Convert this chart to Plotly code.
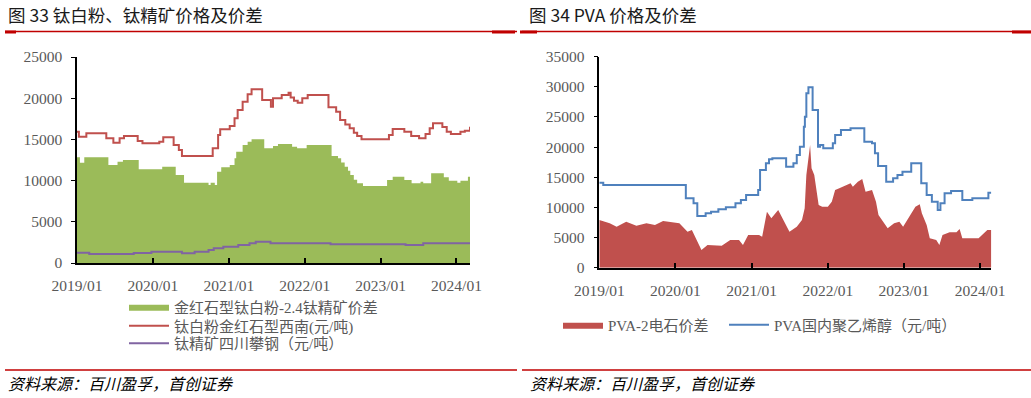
import plotly.graph_objects as go

# ---------------- Left chart data (图33) ----------------
ti_red_dates = ["2019-01-01","2019-01-10","2019-02-15","2019-05-22","2019-06-25","2019-07-25","2019-08-15",
    "2019-10-20","2019-11-12","2020-02-01","2020-02-20","2020-04-10","2020-05-05","2020-05-20","2020-10-15",
    "2020-11-10","2020-11-20","2021-01-05","2021-01-28","2021-02-12","2021-03-08","2021-04-01","2021-04-20",
    "2021-06-10","2021-07-22","2021-08-01","2021-09-12","2021-10-15","2021-10-25","2021-11-10","2021-11-28",
    "2021-12-20","2022-01-15","2022-04-25","2022-06-01","2022-06-20","2022-07-15","2022-08-05","2022-08-25",
    "2022-09-10","2022-10-01","2023-02-10","2023-02-28","2023-04-25","2023-05-28","2023-07-05","2023-08-05",
    "2023-08-25","2023-09-10","2023-10-25","2023-11-15","2023-12-05","2024-01-20","2024-02-10","2024-03-06"]
ti_red_vals = [15930,15330,15740,15130,14600,15130,15410,
    14810,14520,14720,15250,14320,13710,12990,13920,
    15530,16220,16620,17560,18570,19580,20470,21080,
    19780,18970,19990,20390,20670,20100,19700,19450,
    19990,20390,18890,18360,17350,16800,16350,15800,
    15410,15010,15530,16260,15930,15410,15130,15650,
    16350,16950,16500,15930,15650,15930,16060,16540]

ti_green_dates = ["2019-01-01","2019-01-15","2019-02-05","2019-06-01","2019-07-15","2019-08-10","2019-10-25",
    "2020-02-15","2020-04-20","2020-05-30","2020-09-25","2020-10-05","2020-10-25","2020-11-05","2020-11-25",
    "2021-01-05","2021-01-28","2021-02-05","2021-03-08","2021-04-01","2021-04-20","2021-06-20","2021-08-01",
    "2021-08-25","2021-11-01","2021-11-25","2022-01-10","2022-05-10","2022-06-10","2022-06-25","2022-07-12",
    "2022-07-28","2022-08-08","2022-08-25","2022-09-10","2022-10-08","2023-02-01","2023-02-28","2023-04-25",
    "2023-05-30","2023-07-12","2023-07-25","2023-09-01","2023-11-01","2023-11-25","2024-01-05","2024-01-20",
    "2024-02-25","2024-03-06"]
ti_green_vals = [12830,12170,12830,11890,12290,12500,11370,
    11690,10680,9750,9470,9750,9470,11080,11610,
    11890,12700,13510,14320,14720,15010,13920,14200,
    14440,14100,13920,14320,12990,12700,12200,11690,
    11200,10680,10100,9670,9340,10070,10470,10070,
    9670,9870,9670,10890,10400,9990,9750,9990,
    10470,10470]

ti_purple_dates = ["2019-01-01","2019-03-01","2019-10-01","2019-12-25","2020-05-20","2020-07-20","2020-09-25",
    "2020-10-20","2020-12-05","2021-02-15","2021-04-10","2021-05-10","2021-07-20","2022-05-05","2023-05-01",
    "2023-07-25","2024-03-06"]
ti_purple_vals = [1250,1090,1200,1370,1190,1370,1580,
    1780,1980,2180,2390,2590,2390,2270,2180,
    2390,2390]

# ---------------- Right chart data (图34) ----------------
pva_dates = ["2019-01-01","2019-01-20","2020-02-20","2020-03-28","2020-04-15","2020-05-25","2020-06-20",
    "2020-07-25","2020-08-30","2020-10-15","2020-11-10","2020-12-05","2021-02-01","2021-02-10","2021-03-10",
    "2021-03-25","2021-04-10","2021-06-15","2021-07-20","2021-08-05","2021-08-20","2021-09-08","2021-09-13",
    "2021-09-20","2021-09-30","2021-10-20","2021-11-15","2021-11-25","2021-12-10","2022-01-25","2022-02-05",
    "2022-03-05","2022-04-20","2022-06-25","2022-08-01","2022-08-15","2022-08-30","2022-10-08","2022-11-10",
    "2022-12-01","2022-12-25","2023-02-05","2023-03-25","2023-04-20","2023-05-15","2023-06-12","2023-06-25",
    "2023-07-15","2023-08-15","2023-10-08","2023-11-25","2024-02-10","2024-02-24"]
pva_vals = [14100,13720,11510,10680,8580,9020,9290,
    9690,10020,10680,11230,12060,12890,16210,17320,
    17980,18150,16760,17320,18700,20070,23390,25050,
    28930,29930,26160,20070,20360,19810,20640,22010,
    22840,23120,20900,20640,18980,16870,14270,14830,
    15380,15930,17320,14000,12060,10950,9570,10680,
    12340,12720,11230,11510,12440,12440]

spread_dates = ["2019-01-01","2019-02-20","2019-03-25","2019-05-10","2019-06-28","2019-08-15","2019-09-25",
    "2019-11-03","2020-01-20","2020-02-28","2020-03-20","2020-05-05","2020-06-03","2020-07-10","2020-08-10",
    "2020-09-20","2020-11-01","2020-11-20","2020-12-15","2021-02-05","2021-02-20","2021-03-15","2021-04-05",
    "2021-05-08","2021-05-28","2021-07-01","2021-08-05","2021-08-30","2021-09-12","2021-09-20","2021-10-08",
    "2021-10-15","2021-10-28","2021-11-18","2021-12-05","2022-01-01","2022-01-20","2022-02-05","2022-02-25",
    "2022-04-01","2022-04-20","2022-05-01","2022-05-25","2022-06-15","2022-07-01","2022-08-01","2022-08-20",
    "2022-09-01","2022-10-15","2022-11-15","2022-12-10","2022-12-28","2023-01-30","2023-02-25","2023-03-18",
    "2023-03-28","2023-04-20","2023-05-05","2023-06-05","2023-06-20","2023-07-05","2023-08-08","2023-09-10",
    "2023-09-25","2023-10-08","2023-12-25","2024-02-05","2024-02-24"]
spread_vals = [7910,7360,6800,7630,6970,7360,7080,
    7750,7360,5970,6250,2940,3770,3770,3650,
    4600,4600,3770,5430,5430,5150,9290,8200,
    9570,8200,5970,6800,7910,9850,15380,20360,
    16490,15380,10400,10120,10120,10950,12890,13170,
    13720,14000,13440,14270,14720,12610,12890,10950,
    8740,6540,7360,7630,6800,8740,10120,10510,
    9020,7080,4870,4600,3770,5430,5870,5870,
    6420,4870,4870,6250,6250]

W, H = 1031, 398
def px(x): return x / W
def py(y): return 1 - y / H

GRAY = "#595959"
TICKFONT = dict(family="Liberation Serif, Times New Roman, serif", size=15.5, color=GRAY)
LEGFONT = dict(family="Liberation Serif, Noto Sans CJK SC, sans-serif", size=15, color=GRAY)

fig = go.Figure()

# Left traces
fig.add_trace(go.Scatter(x=ti_green_dates, y=ti_green_vals, mode="lines", line=dict(width=0, shape="hv", color="#9BBB59"),
    fill="tozeroy", fillcolor="#9BBB59", name="金红石型钛白粉-2.4钛精矿价差", xaxis="x", yaxis="y", legend="legend"))
fig.add_trace(go.Scatter(x=ti_red_dates, y=ti_red_vals, mode="lines", line=dict(width=2, shape="hv", color="#C0504D"),
    name="钛白粉金红石型西南(元/吨)", xaxis="x", yaxis="y", legend="legend3"))
fig.add_trace(go.Scatter(x=ti_purple_dates, y=ti_purple_vals, mode="lines", line=dict(width=2, shape="hv", color="#8064A2"),
    name="钛精矿四川攀钢（元/吨）", xaxis="x", yaxis="y", legend="legend4"))

# Right traces
fig.add_trace(go.Scatter(x=spread_dates, y=spread_vals, mode="lines", line=dict(width=0, color="#C0504D"),
    fill="tozeroy", fillcolor="#C0504D", name="PVA-2电石价差", xaxis="x2", yaxis="y2", legend="legend2"))
fig.add_trace(go.Scatter(x=pva_dates, y=pva_vals, mode="lines", line=dict(width=2, shape="hv", color="#4F81BD"),
    name="PVA国内聚乙烯醇（元/吨）", xaxis="x2", yaxis="y2", legend="legend5"))

xcommon = dict(type="date", tickformat="%Y/%m", dtick="M12", tick0="2019-01-01", ticks="inside", ticklen=5,
               tickcolor="black", tickwidth=1.5, showline=True, linecolor="black", linewidth=1.5, showgrid=False,
               zeroline=False, tickfont=TICKFONT, fixedrange=True, automargin=False, ticklabelstandoff=8)
ycommon = dict(ticks="outside", ticklen=4, tickcolor="black", tickwidth=1, showline=True, linecolor="black",
               linewidth=1.5, showgrid=False, zeroline=False, tickfont=TICKFONT, tickformat="d", fixedrange=True,
               ticklabelstandoff=6, automargin=False)

def leg(x, y):
    return dict(x=px(x), y=py(y), xanchor="left", yanchor="middle", orientation="v", font=LEGFONT,
                bgcolor="rgba(0,0,0,0)", itemwidth=40)

fig.update_layout(
    width=W, height=H, margin=dict(l=0, r=0, t=0, b=0, autoexpand=False), paper_bgcolor="white", plot_bgcolor="white",
    showlegend=True,
    xaxis=dict(domain=[px(77), px(470)], range=["2019-01-01", "2024-03-06"], anchor="y", **xcommon),
    yaxis=dict(domain=[py(263), py(57)], range=[0, 25000], dtick=5000, anchor="x", **ycommon),
    xaxis2=dict(domain=[px(599.3), px(991.3)], range=["2019-01-01", "2024-02-24"], anchor="y2", **xcommon),
    yaxis2=dict(domain=[py(267.7), py(56.7)], range=[0, 35000], dtick=5000, anchor="x2", **ycommon),
    legend=leg(124, 307),
    legend3=leg(124, 326),
    legend4=leg(124, 343.5),
    legend2=leg(558, 325),
    legend5=leg(724, 325),
)

RED = "#C00000"
shapes = []
for (x0, x1) in [(5, 517), (522, 1031)]:
    shapes.append(dict(type="line", xref="paper", yref="paper", x0=px(x0), x1=px(x1), y0=py(31.5), y1=py(31.5),
                       line=dict(color=RED, width=1.5)))
    shapes.append(dict(type="line", xref="paper", yref="paper", x0=px(x0), x1=px(x1), y0=py(370), y1=py(370),
                       line=dict(color=RED, width=1.5)))
for (x0, x1) in [(5, 16), (492, 515), (520, 537), (1012, 1031)]:
    shapes.append(dict(type="line", xref="paper", yref="paper", x0=px(x0), x1=px(x1), y0=py(32), y1=py(32),
                       line=dict(color=RED, width=3)))
fig.update_layout(shapes=shapes)

TITLEFONT = dict(family="Noto Sans CJK SC, sans-serif", size=17.5, color="#1a1a1a", weight="normal")
SRCFONT = dict(family="Noto Sans CJK SC, sans-serif", size=16, color="black", style="italic", weight="normal")
ann = [
    dict(text="图 33 钛白粉、钛精矿价格及价差", x=px(6), y=py(14), xanchor="left", yanchor="middle", font=TITLEFONT),
    dict(text="图 34 PVA 价格及价差", x=px(527), y=py(14), xanchor="left", yanchor="middle", font=TITLEFONT),
    dict(text="资料来源：百川盈孚，首创证券", x=px(6), y=py(383), xanchor="left", yanchor="middle", font=SRCFONT),
    dict(text="资料来源：百川盈孚，首创证券", x=px(528), y=py(383), xanchor="left", yanchor="middle", font=SRCFONT),
]
for a in ann:
    a.update(xref="paper", yref="paper", showarrow=False)
fig.update_layout(annotations=ann)

fig.write_html("out.html")
